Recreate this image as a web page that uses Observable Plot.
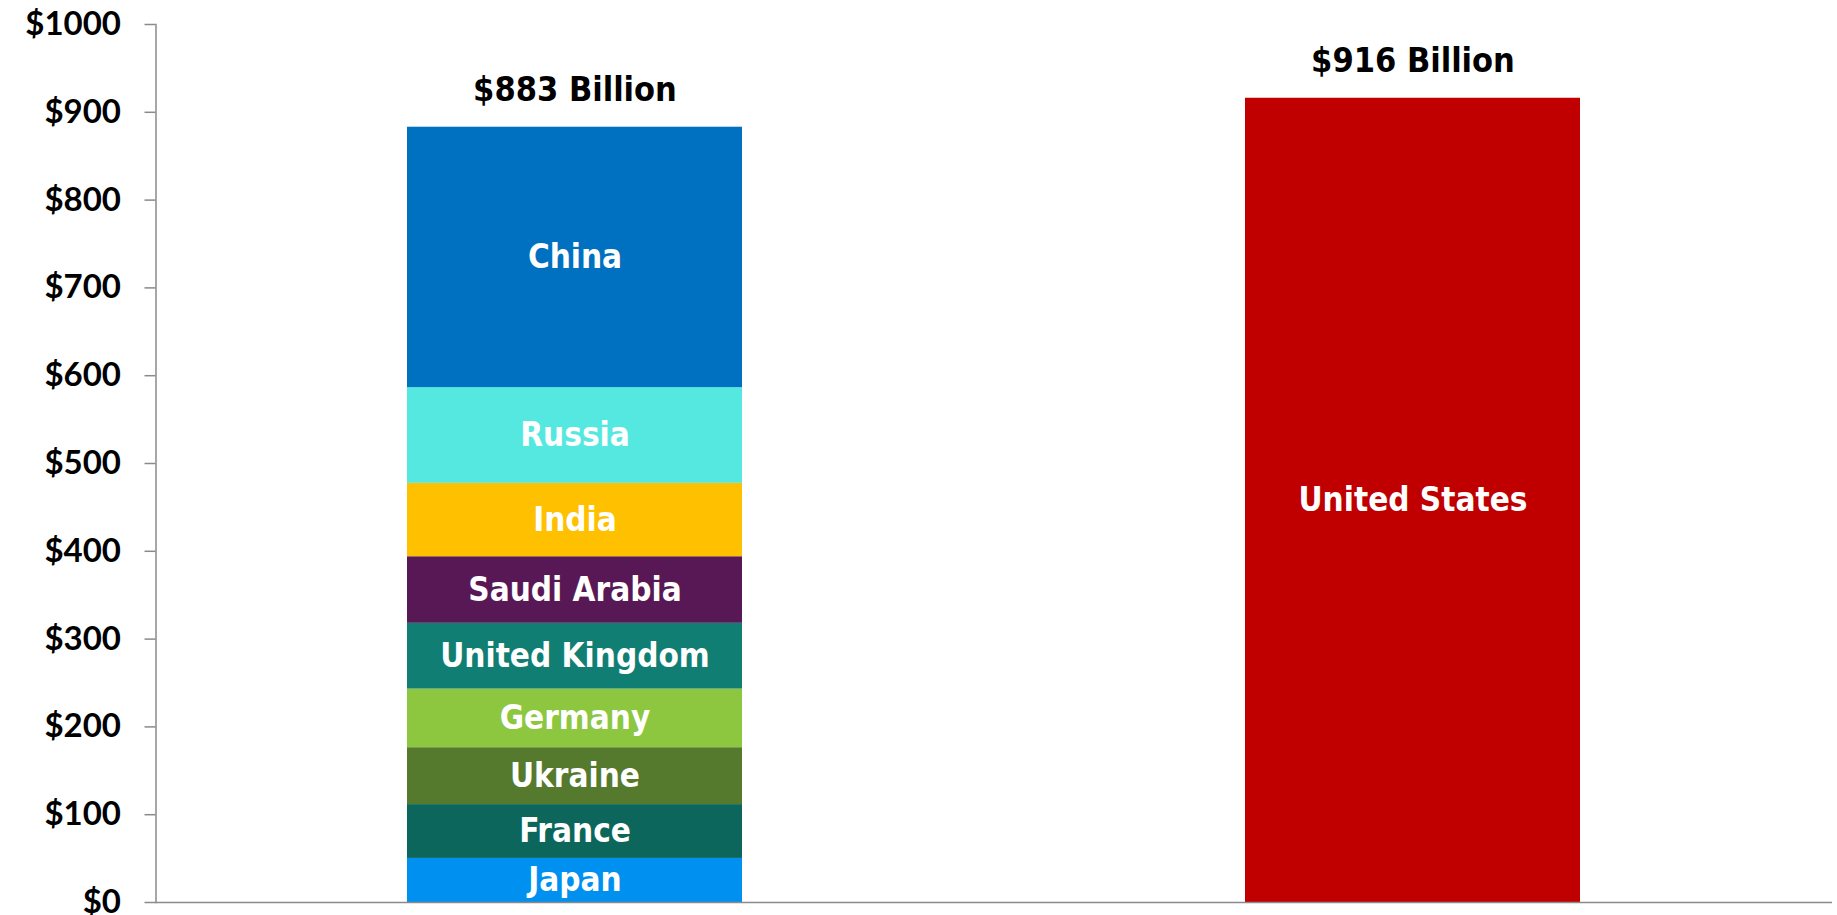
<!DOCTYPE html>
<html>
<head>
<meta charset="utf-8">
<script src="https://cdn.jsdelivr.net/npm/d3@7"></script>
<script src="https://cdn.jsdelivr.net/npm/@observablehq/plot@0.6"></script>
<style>
  html, body { margin: 0; padding: 0; background: #fff; }
  #chart svg { display: block; overflow: visible; }
</style>
</head>
<body>
<div id="chart"></div>
<script>
// Data (billions of US dollars)
const groups = ["Others", "United States"];
const countries = ["Japan", "France", "Ukraine", "Germany", "United Kingdom", "Saudi Arabia", "India", "Russia", "China"];
const countryValues = [50.2, 61.3, 64.8, 66.8, 74.9, 75.8, 83.6, 109, 296.6];
const countryColors = ["#0090F0", "#0C665C", "#557A2E", "#8DC63F", "#117E74", "#581855", "#FFC000", "#55E8E0", "#0070C0"];
const usValue = 916;
const usColor = "#C00000";
const totalLabels = ["$883 Billion", "$916 Billion"];
const yTicks = [0, 100, 200, 300, 400, 500, 600, 700, 800, 900, 1000];

// Build table
const rows = countries.map((c, i) => ({group: groups[0], name: c, value: countryValues[i], color: countryColors[i]}));
rows.push({group: groups[1], name: "United States", value: usValue, color: usColor});
const totals = [
  {group: groups[0], value: d3.sum(countryValues), label: totalLabels[0]},
  {group: groups[1], value: usValue, label: totalLabels[1]}
];

const stackOpts = {x: "group", y: "value", order: null};

const labelFont = "'DejaVu Sans Condensed', 'DejaVu Sans', sans-serif";

const chart = Plot.plot({
  width: 1837,
  height: 915,
  marginLeft: 155.5,
  marginRight: 5,
  marginTop: 24,
  marginBottom: 13,
  style: {background: "#fff"},
  x: {domain: groups, paddingInner: 0.6, paddingOuter: 0.3, axis: null},
  y: {domain: [0, 1000], ticks: yTicks, axis: null, label: null},
  color: {type: "identity"},
  marks: [
    Plot.barY(rows, Plot.stackY({...stackOpts, fill: "color"})),
    Plot.text(rows, Plot.stackY({
      ...stackOpts,
      y: "value",
      text: "name",
      fill: "white",
      fontSize: 33,
      fontWeight: "bold",
      fontFamily: labelFont,
      style: {fontStretch: "condensed"}
    })),
    Plot.text(totals, {
      x: "group", y: "value", text: "label",
      lineAnchor: "bottom", dy: -26,
      fill: "black", fontSize: 34, fontWeight: "bold",
      fontFamily: labelFont
    }),
    Plot.axisY({
      ticks: yTicks,
      label: null,
      tickFormat: d => "$" + d,
      tickSize: 11,
      tickPadding: 24,
      stroke: "#8a8a8a",
      strokeWidth: 1.5,
      fill: "#000",
      fontSize: 33,
      fontWeight: "bold",
      fontFamily: "Lato, sans-serif"
    }),
    Plot.frame({anchor: "left", stroke: "#8a8a8a", strokeWidth: 1.5}),
    Plot.ruleY([0], {stroke: "#8a8a8a", strokeWidth: 1.5})
  ]
});
document.getElementById("chart").appendChild(chart);
</script>
</body>
</html>
